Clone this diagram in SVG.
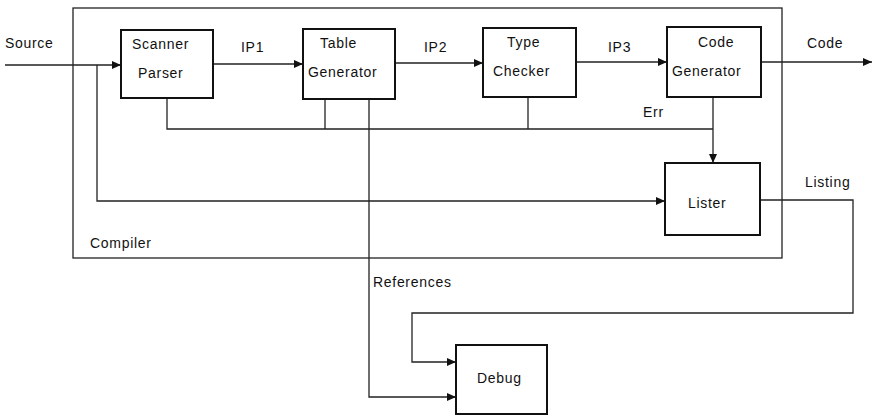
<svg xmlns="http://www.w3.org/2000/svg" width="875" height="417" viewBox="0 0 875 417">
<style>
text{font-family:"Liberation Sans",Arial,sans-serif;font-size:14px;letter-spacing:0.7px;fill:#111}
.box{fill:#fff;stroke:#111;stroke-width:2}
.frame{fill:none;stroke:#222;stroke-width:1.3}
.ln{fill:none;stroke:#222;stroke-width:1.3}
</style>
<defs>
<marker id="ah" markerWidth="10" markerHeight="8" refX="9" refY="4" orient="auto" markerUnits="userSpaceOnUse">
<path d="M0,0 L9,4 L0,8 Z" fill="#111"/>
</marker>
</defs>
<g id="compiler">
<rect class="frame" x="73" y="8" width="709" height="250"/>
<text x="90" y="248">Compiler</text>
</g>
<g id="connectors">
<path class="ln" d="M5,65 H121" marker-end="url(#ah)"/>
<path class="ln" d="M97,65 V201 H665" marker-end="url(#ah)"/>
<path class="ln" d="M213,64 H303" marker-end="url(#ah)"/>
<path class="ln" d="M395,63 H483" marker-end="url(#ah)"/>
<path class="ln" d="M576,62 H667" marker-end="url(#ah)"/>
<path class="ln" d="M761,62 H872" marker-end="url(#ah)"/>
<path class="ln" d="M167,98 V129 H713"/>
<path class="ln" d="M325,99 V129"/>
<path class="ln" d="M528,97 V129"/>
<path class="ln" d="M713,97 V163" marker-end="url(#ah)"/>
<path class="ln" d="M369,99 V397 H456" marker-end="url(#ah)"/>
<path class="ln" d="M760,200 H853 V313 H412 V362 H456" marker-end="url(#ah)"/>
<text x="5" y="48">Source</text>
<text x="241" y="52">IP1</text>
<text x="424" y="52">IP2</text>
<text x="608" y="52">IP3</text>
<text x="807" y="48">Code</text>
<text x="643" y="117">Err</text>
<text x="805" y="187">Listing</text>
<text x="373" y="287">References</text>
</g>
<g id="scanner">
<rect class="box" x="121" y="30" width="92" height="68"/>
<text x="132" y="49">Scanner</text>
<text x="138" y="78">Parser</text>
</g>
<g id="table">
<rect class="box" x="303" y="29" width="92" height="70"/>
<text x="320" y="48">Table</text>
<text x="308" y="77">Generator</text>
</g>
<g id="type">
<rect class="box" x="483" y="28" width="93" height="69"/>
<text x="507" y="47">Type</text>
<text x="493" y="76">Checker</text>
</g>
<g id="codegen">
<rect class="box" x="667" y="27" width="94" height="70"/>
<text x="698" y="47">Code</text>
<text x="672" y="76">Generator</text>
</g>
<g id="lister">
<rect class="box" x="665" y="163" width="95" height="72"/>
<text x="688" y="208">Lister</text>
</g>
<g id="debug">
<rect class="box" x="456" y="345" width="91" height="69"/>
<text x="477" y="383">Debug</text>
</g>
</svg>
